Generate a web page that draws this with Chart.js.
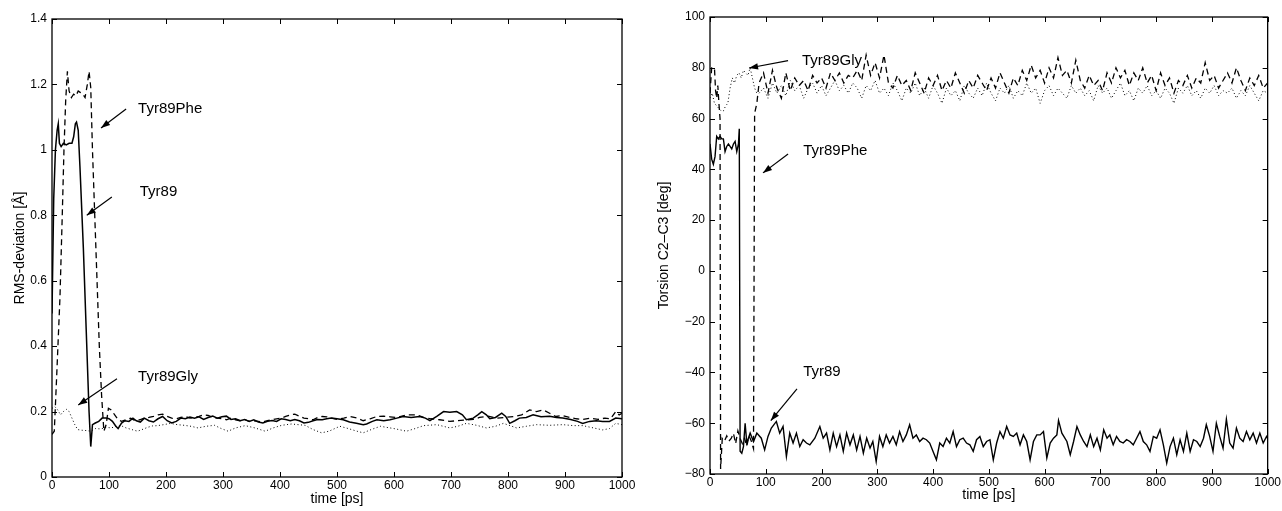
<!DOCTYPE html>
<html><head><meta charset="utf-8">
<script src="https://cdn.jsdelivr.net/npm/chart.js@4.4.1/dist/chart.umd.min.js"></script>
<style>
html,body{margin:0;padding:0;background:#fff;width:1282px;height:511px;overflow:hidden}
canvas{position:absolute;top:0}
#c1{left:0}
#c2{left:640px}
</style></head><body>
<canvas id="c1" width="640" height="511"></canvas>
<canvas id="c2" width="642" height="511"></canvas>
<script>
// ---------- tick labels ----------
const timeTicks = [0,100,200,300,400,500,600,700,800,900,1000];
const timeTickLabels = ['0','100','200','300','400','500','600','700','800','900','1000'];
const rmsTicks = [0,0.2,0.4,0.6,0.8,1,1.2,1.4];
const rmsTickLabels = ['0','0.2','0.4','0.6','0.8','1','1.2','1.4'];
const torsTicks = [-80,-60,-40,-20,0,20,40,60,80,100];
const torsTickLabels = ['-80','-60','-40','-20','0','20','40','60','80','100'].map(s=>s.replace('-','\u2212'));

// ---------- RMS deviation (left panel) ----------
const rmsTyr89Time = [0,3,6,9,11,13,16,20,25,30,35,38,41,43,46,49,55,60,65,68,71,76,82,88,95,100,106,112,116,122,128,135,142,148,155,162,170,178,186,194,202,210,218,226,234,242,250,258,266,274,282,290,298,306,314,322,330,338,346,354,362,370,378,386,394,402,410,418,426,434,442,450,458,466,474,482,490,500,511,522,534,546,552,562,570,582,593,605,616,630,645,655,663,675,687,698,710,720,727,739,747,754,762,768,778,789,796,803,812,820,832,844,858,873,885,896,910,922,931,943,955,966,978,989,1000];
const rmsTyr89 = [0.5,0.85,1.0,1.06,1.08,1.02,1.01,1.02,1.015,1.02,1.02,1.04,1.08,1.085,1.06,0.95,0.7,0.45,0.2,0.093,0.16,0.165,0.17,0.18,0.18,0.178,0.17,0.155,0.148,0.165,0.172,0.17,0.18,0.172,0.168,0.18,0.172,0.168,0.178,0.185,0.172,0.165,0.17,0.18,0.178,0.183,0.18,0.184,0.176,0.182,0.186,0.18,0.184,0.186,0.176,0.178,0.172,0.176,0.17,0.175,0.168,0.165,0.17,0.173,0.17,0.178,0.176,0.172,0.176,0.172,0.165,0.167,0.172,0.176,0.175,0.178,0.18,0.178,0.175,0.168,0.164,0.16,0.162,0.17,0.175,0.172,0.175,0.18,0.185,0.182,0.185,0.18,0.172,0.185,0.2,0.198,0.2,0.19,0.175,0.18,0.19,0.2,0.19,0.178,0.182,0.195,0.185,0.164,0.172,0.18,0.182,0.19,0.184,0.186,0.182,0.18,0.176,0.17,0.164,0.17,0.172,0.17,0.17,0.18,0.178];

const rmsPheTime = [0,4,8,14,18,21,24,27,30,34,38,42,46,50,54,58,62,65,68,71,75,79,83,87,91,95,99,104,110,116,122,130,138,146,154,162,170,178,186,194,202,210,218,226,234,242,250,258,266,274,282,290,298,306,314,322,330,338,346,354,362,370,378,386,394,402,410,418,426,434,442,450,458,466,474,482,490,500,512,523,535,546,558,570,582,593,605,622,640,652,665,680,698,710,722,739,750,765,780,795,810,824,838,850,862,873,884,896,908,920,931,945,958,970,980,989,995,1000];
const rmsPhe = [0.13,0.14,0.3,0.55,0.8,1.0,1.15,1.24,1.18,1.16,1.17,1.165,1.18,1.175,1.17,1.16,1.2,1.24,1.19,1.0,0.8,0.6,0.4,0.25,0.14,0.16,0.21,0.205,0.19,0.175,0.17,0.175,0.18,0.172,0.175,0.18,0.182,0.185,0.19,0.192,0.185,0.18,0.178,0.182,0.185,0.18,0.182,0.185,0.19,0.188,0.182,0.18,0.178,0.175,0.18,0.175,0.172,0.175,0.17,0.172,0.17,0.168,0.172,0.175,0.178,0.18,0.185,0.19,0.192,0.186,0.18,0.178,0.175,0.182,0.185,0.184,0.18,0.176,0.18,0.185,0.18,0.172,0.178,0.185,0.186,0.184,0.182,0.19,0.19,0.182,0.178,0.175,0.17,0.172,0.174,0.176,0.182,0.186,0.18,0.182,0.185,0.19,0.205,0.2,0.205,0.195,0.185,0.188,0.182,0.178,0.176,0.18,0.176,0.18,0.178,0.2,0.19,0.195];

const rmsGlyTime = [0,5,10,15,20,25,30,35,40,45,52,60,68,76,86,95,104,112,121,130,140,150,158,168,176,185,196,208,220,232,244,256,270,285,297,309,322,339,356,374,388,403,420,444,458,473,486,496,505,520,535,546,560,576,600,622,637,652,675,698,712,727,745,762,778,792,815,832,850,873,896,915,931,950,966,978,989,1000];
const rmsGly = [0.21,0.215,0.205,0.19,0.2,0.207,0.2,0.18,0.16,0.145,0.143,0.142,0.14,0.148,0.147,0.152,0.15,0.155,0.157,0.15,0.145,0.14,0.145,0.152,0.156,0.157,0.16,0.164,0.16,0.158,0.155,0.15,0.155,0.158,0.148,0.14,0.15,0.157,0.15,0.14,0.15,0.158,0.162,0.158,0.145,0.135,0.14,0.148,0.155,0.148,0.14,0.135,0.145,0.155,0.148,0.14,0.148,0.157,0.16,0.15,0.155,0.164,0.158,0.15,0.155,0.164,0.15,0.155,0.16,0.158,0.16,0.157,0.157,0.15,0.144,0.148,0.164,0.16];

// ---------- Torsion C2-C3 (right panel) ----------
const torsTyr89Time = [0,3,6,9,12,15,18,21,24,27,30,33,36,39,42,45,48,51,52.5,
54,57,60,63,66,72,78,84,92,98,104,110,119,125,131,137,143,149,155,161,167,173,179,188,197,203,209,215,221,227,233,239,245,251,257,263,269,275,281,287,292,298,304,310,316,322,328,334,340,346,352,358,364,370,376,382,388,394,400,406,412,418,424,430,436,442,448,454,460,466,472,478,484,490,496,502,508,514,520,526,532,538,544,550,556,562,568,574,580,586,592,598,604,610,616,622,625,631,640,646,652,658,664,670,676,682,688,694,700,706,712,717,723,729,735,741,747,753,759,765,771,777,783,789,795,801,807,813,819,825,831,837,843,849,855,861,867,873,879,885,890,896,902,908,914,920,926,932,938,944,950,956,962,968,974,980,986,992,998,1000];
const torsTyr89 = [50,44,42,45,53,52,53,52,52,47,49,50,49,48,50,51,47,50,56,
-71,-71.8,-69.2,-60,-67.8,-63.9,-67.2,-63.9,-65.9,-70.5,-65.2,-61.9,-59.3,-63.9,-61.3,-73.1,-63.9,-67.8,-63.9,-69.2,-66.5,-67.8,-68.5,-65.9,-61.3,-65.9,-63.9,-70.5,-63.9,-69.2,-64.6,-71.1,-63.9,-68.5,-64.6,-70.5,-65.2,-71.8,-65.9,-69.8,-67.2,-75.1,-65.2,-69.2,-64.6,-67.8,-65.2,-68.5,-63.3,-67.2,-64.6,-60.6,-65.9,-64.6,-67.2,-65.9,-66.5,-67.8,-71.1,-74.4,-67.8,-69.2,-65.9,-67.8,-63.3,-69.2,-66.5,-65.9,-67.8,-68.5,-71.1,-66.5,-65.2,-69.2,-67.2,-66.5,-74.4,-67.8,-63.3,-65.9,-61.3,-64.6,-65.2,-63.9,-68.5,-64.6,-67.2,-74.4,-67.2,-64.6,-64.6,-63.3,-73.7,-67.8,-65.9,-64.6,-58.9,-63.9,-67.2,-72.4,-67.2,-61.3,-64.6,-67.2,-69.2,-64.6,-69.2,-65.9,-70.5,-62.6,-65.9,-64.6,-68.5,-65.2,-67.2,-67.8,-66.5,-67.2,-68.5,-65.9,-63.3,-67.2,-68.5,-71.1,-65.2,-65.9,-62.6,-68.5,-75.7,-69.2,-65.9,-72.4,-66.5,-71.1,-63.9,-71.1,-66.5,-67.2,-69.2,-65.9,-60.6,-65.2,-71.1,-60.0,-65.2,-69.8,-58.4,-67.8,-69.8,-61.9,-65.9,-67.2,-63.3,-66.5,-63.9,-67.8,-63.9,-67.8,-65.2,-66];

const torsPheStartTime = [0,3,8,10,12,14,16,18,19,22,26,30,34,38,42,46,50,54,58,62,66,70,74,78,80,84];
const torsPheStart = [70,80,80,71,68,73,66,60,-78,-66,-67,-65,-67,-66,-64,-68,-63,-66,-68,-66,-69,-65,-67,-70,62,66];
const torsGlyStartTime = [0,4,8,12,16,20,24,28,32,36,40,44,48,52,56,60,64,68,72,76,80,84];
const torsGlyStart = [68,70,66,65,64,63,63,65,66,72,76,74,77,78,76,79,78,77,80,76,72,70];

const torsBandTime = [88,96,104,112,120,128,136,144,152,160,168,176,184,192,200,208,216,224,232,240,248,256,264,272,280,288,296,304,312,320,328,336,344,352,360,368,376,384,392,400,408,416,424,432,440,448,456,464,472,480,488,496,504,512,520,528,536,544,552,560,568,576,584,592,600,608,616,624,632,640,648,656,664,672,680,688,696,704,712,720,728,736,744,752,760,768,776,784,792,800,808,816,824,832,840,848,856,864,872,880,888,896,904,912,920,928,936,944,952,960,968,976,984,992,1000];
const torsPheBand = [74,78,70,79,72,68,78,71,76,73,75,71,77,74,76,72,78,75,78,74,77,76,79,75,85,77,82,76,85,74,72,77,73,75,71,78,74,70,76,73,77,71,75,72,78,74,70,75,72,77,74,71,76,72,78,74,70,76,73,79,75,81,76,79,74,80,76,84,77,79,74,83,75,72,77,73,75,71,78,74,80,76,79,73,78,75,80,74,77,71,78,73,76,70,75,73,77,72,76,74,82,75,77,72,75,78,74,80,75,71,76,73,77,72,74];
const torsGlyBand = [70,72,68,74,70,73,69,75,71,73,68,72,74,70,73,69,72,75,71,73,70,74,72,68,73,71,75,70,72,69,74,71,67,72,70,74,69,72,68,73,70,66,72,69,71,67,73,70,68,72,69,74,70,67,72,70,73,68,71,69,74,70,72,66,71,73,69,72,70,68,73,70,72,69,71,67,73,70,72,68,71,74,69,71,67,72,70,73,69,71,68,72,70,66,72,70,73,69,71,68,72,70,73,69,71,70,72,68,71,69,73,70,67,71,70];

// ---------- helpers ----------
function pts(t, v){ const n = Math.min(t.length, v.length); const o = []; for (let i=0;i<n;i++) o.push({x:t[i], y:v[i]}); return o; }
const FONT = '"Liberation Sans", Arial, Helvetica, sans-serif';
Chart.defaults.font.family = FONT;
Chart.defaults.color = '#000';

const framePlugin = {
  id: 'frame',
  afterDatasetsDraw(chart, args, opts) {
    const {ctx, chartArea: a, scales: {x, y}} = chart;
    ctx.save();
    ctx.strokeStyle = '#000';
    ctx.lineWidth = 1.3;
    ctx.strokeRect(a.left, a.top, a.right - a.left, a.bottom - a.top);
    const L = 5;
    ctx.lineWidth = 1;
    ctx.beginPath();
    x.ticks.forEach(t => {
      const px = Math.round(x.getPixelForValue(t.value)) + 0.5;
      ctx.moveTo(px, a.bottom); ctx.lineTo(px, a.bottom - L);
      ctx.moveTo(px, a.top); ctx.lineTo(px, a.top + L);
    });
    y.ticks.forEach(t => {
      const py = Math.round(y.getPixelForValue(t.value)) + 0.5;
      ctx.moveTo(a.left, py); ctx.lineTo(a.left + L, py);
      ctx.moveTo(a.right, py); ctx.lineTo(a.right - L, py);
    });
    ctx.stroke();
    // annotations
    (opts.notes || []).forEach(n => {
      ctx.fillStyle = '#000';
      ctx.font = '15px ' + FONT;
      ctx.textAlign = 'left';
      ctx.textBaseline = 'middle';
      ctx.fillText(n.text, x.getPixelForValue(n.tx), y.getPixelForValue(n.ty));
      const x1 = x.getPixelForValue(n.ax1), y1 = y.getPixelForValue(n.ay1);
      const x2 = x.getPixelForValue(n.ax2), y2 = y.getPixelForValue(n.ay2);
      ctx.lineWidth = 1.2;
      ctx.beginPath(); ctx.moveTo(x1, y1); ctx.lineTo(x2, y2); ctx.stroke();
      const ang = Math.atan2(y2 - y1, x2 - x1), hl = 9, hw = 3.2;
      const bx = x2 - hl * Math.cos(ang), by = y2 - hl * Math.sin(ang);
      ctx.beginPath();
      ctx.moveTo(x2, y2);
      ctx.lineTo(bx + hw * Math.sin(ang), by - hw * Math.cos(ang));
      ctx.lineTo(bx - hw * Math.sin(ang), by + hw * Math.cos(ang));
      ctx.closePath(); ctx.fill();
    });
    ctx.restore();
  }
};

function ds(data, style) {
  return Object.assign({data, borderColor:'#000', backgroundColor:'#000', pointRadius:0, tension:0, fill:false, spanGaps:true}, style);
}
const SOLID = {borderWidth:1.5};
const DASHED = {borderWidth:1.3, borderDash:[6,4]};
const DOTTED = {borderWidth:1, borderDash:[1,2.5]};

function makeOptions(cfg) {
  return {
    responsive: false, animation: false, devicePixelRatio: 1,
    layout: {padding: cfg.padding},
    plugins: {legend:{display:false}, tooltip:{enabled:false}, frame:{notes: cfg.notes}},
    scales: {
      x: {
        type:'linear', min:0, max:1000,
        afterBuildTicks: s => { s.ticks = timeTicks.map(v => ({value:v})); },
        afterFit: s => { s.height = cfg.xHeight; },
        grid:{display:false, drawTicks:false}, border:{display:false},
        ticks:{padding:1, font:{size:12}, color:'#000', maxRotation:0, autoSkip:false, callback:(v,i)=>timeTickLabels[i]},
        title:{display:true, text:'time [ps]', font:{size:14}, color:'#000', padding:{top:0,bottom:cfg.xTitlePad}}
      },
      y: {
        type:'linear', min:cfg.yMin, max:cfg.yMax,
        afterBuildTicks: s => { s.ticks = cfg.yTicks.map(v => ({value:v})); },
        afterFit: s => { s.width = cfg.yWidth; },
        grid:{display:false, drawTicks:false}, border:{display:false},
        ticks:{padding:5, font:{size:12}, color:'#000', autoSkip:false, callback:(v,i)=>cfg.yTickLabels[i]},
        title:{display:true, text:cfg.yTitle, font:{size:14}, color:'#000', padding:{top:cfg.yTitlePad,bottom:0}}
      }
    }
  };
}

new Chart(document.getElementById('c1'), {
  type:'line',
  data:{datasets:[
    ds(pts(rmsGlyTime, rmsGly), DOTTED),
    ds(pts(rmsPheTime, rmsPhe), DASHED),
    ds(pts(rmsTyr89Time, rmsTyr89), SOLID)
  ]},
  options: makeOptions({
    padding:{left:0, top:19, right:18, bottom:0},
    xHeight:34, yWidth:52, xTitlePad:3, yTitlePad:12,
    yMin:0, yMax:1.4, yTicks:rmsTicks, yTickLabels:rmsTickLabels,
    yTitle:'RMS-deviation [\u00C5]',
    notes:[
      {text:'Tyr89Phe', tx:151, ty:1.125, ax1:130, ay1:1.125, ax2:86, ay2:1.067},
      {text:'Tyr89', tx:154, ty:0.872, ax1:105, ay1:0.856, ax2:61, ay2:0.80},
      {text:'Tyr89Gly', tx:151, ty:0.306, ax1:114, ay1:0.30, ax2:46, ay2:0.22}
    ]
  }),
  plugins:[framePlugin]
});

new Chart(document.getElementById('c2'), {
  type:'line',
  data:{datasets:[
    ds(pts(torsGlyStartTime.concat(torsBandTime), torsGlyStart.concat(torsGlyBand)), DOTTED),
    ds(pts(torsPheStartTime.concat(torsBandTime), torsPheStart.concat(torsPheBand)), DASHED),
    ds(pts(torsTyr89Time, torsTyr89), {borderWidth:1.4})
  ]},
  options: makeOptions({
    padding:{left:0, top:17, right:14, bottom:0},
    xHeight:37, yWidth:70, xTitlePad:7, yTitlePad:16,
    yMin:-80, yMax:100, yTicks:torsTicks, yTickLabels:torsTickLabels,
    yTitle:'Torsion C2\u2013C3 [deg]',
    notes:[
      {text:'Tyr89Gly', tx:165, ty:82.6, ax1:140, ay1:82.8, ax2:70, ay2:79.9},
      {text:'Tyr89Phe', tx:167, ty:47.2, ax1:140, ay1:46, ax2:95, ay2:38.6},
      {text:'Tyr89', tx:167, ty:-39.8, ax1:156, ay1:-46.5, ax2:109, ay2:-59}
    ]
  }),
  plugins:[framePlugin]
});
</script>
</body></html>
